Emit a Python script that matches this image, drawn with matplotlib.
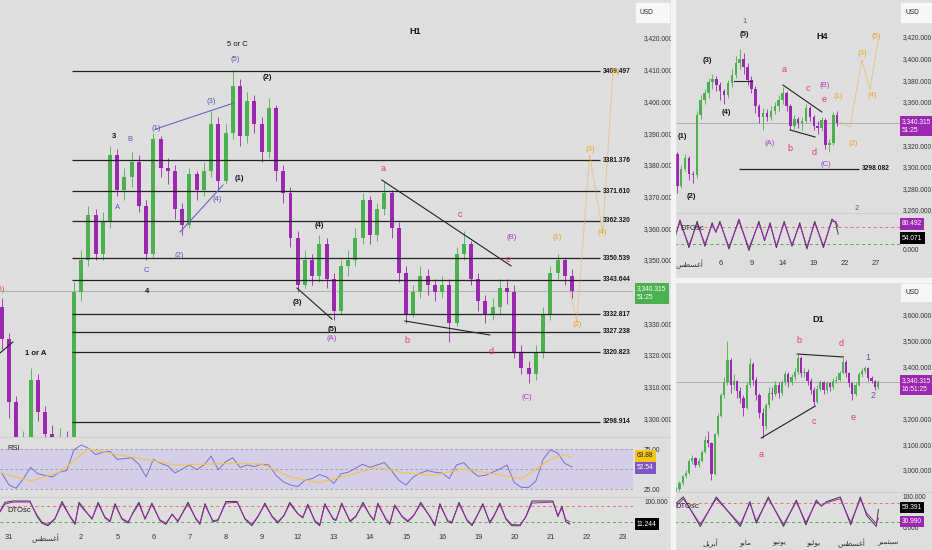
import numpy as np
import matplotlib
matplotlib.use('Agg')
import matplotlib.pyplot as plt
from matplotlib import transforms
from matplotlib.patches import Rectangle
from matplotlib.lines import Line2D
from matplotlib.ticker import FuncFormatter

plt.rcParams['font.family'] = ['Liberation Sans', 'DejaVu Sans']

# --- H1 data (one candle every 0.2 day, first candle at day -0.2) ---
h1_open0 = 3335
h1_close = [3325, 3305, 3288, 3292, 3312, 3302, 3295, 3293, 3294, 3292,
            3340, 3350, 3364, 3352, 3362, 3383, 3372, 3376, 3381, 3367,
            3352, 3388, 3379, 3378, 3366, 3361, 3377, 3372, 3378, 3393,
            3375, 3390, 3405, 3389, 3400, 3393, 3384, 3398, 3378, 3371,
            3357, 3342, 3350, 3345, 3355, 3344, 3334, 3348, 3350, 3357,
            3369, 3358, 3366, 3371, 3360, 3346, 3333, 3340, 3345, 3342,
            3340, 3342, 3330, 3352, 3355, 3344, 3337, 3333, 3335, 3341,
            3340, 3321, 3316, 3314, 3321, 3333, 3346, 3350, 3345, 3340.3]
h1_high = [3338, 3327, 3307, 3296, 3316, 3314, 3304, 3298, 3297, 3296,
           3343, 3353, 3367, 3366, 3365, 3386, 3385, 3379, 3384, 3383,
           3369, 3390, 3389, 3382, 3380, 3368, 3379, 3378, 3381, 3397,
           3395, 3393, 3410, 3407, 3403, 3402, 3395, 3401, 3399, 3380,
           3373, 3359, 3353, 3352, 3358, 3357, 3346, 3350, 3353, 3360,
           3371, 3370, 3368, 3375, 3372, 3362, 3348, 3342, 3348, 3347,
           3344, 3345, 3344, 3354, 3359, 3356, 3346, 3339, 3338, 3344,
           3344, 3342, 3323, 3318, 3323, 3335, 3348, 3352, 3351, 3347]
h1_low = [3322, 3300, 3284, 3286, 3290, 3299, 3292, 3290, 3291, 3289,
          3291, 3337, 3348, 3350, 3350, 3360, 3370, 3369, 3373, 3365,
          3350, 3351, 3376, 3374, 3363, 3358, 3360, 3369, 3370, 3376,
          3372, 3374, 3388, 3386, 3387, 3390, 3381, 3382, 3375, 3368,
          3354, 3340, 3341, 3342, 3343, 3341, 3331, 3333, 3345, 3348,
          3355, 3355, 3356, 3364, 3357, 3343, 3330, 3332, 3338, 3339,
          3337, 3338, 3324, 3329, 3350, 3342, 3334, 3330, 3331, 3333,
          3336, 3319, 3314, 3311, 3312, 3319, 3331, 3344, 3342, 3338]
h1_rsi = [45, 30, 26, 38, 52, 44, 42, 40, 46, 48,
          74, 80, 76, 68, 71, 72, 62, 63, 64, 56,
          40, 62, 57, 54, 45, 50, 55, 49, 55, 66,
          49, 59, 64, 52, 55, 53, 56, 55, 42, 34,
          30, 28, 36, 38, 43, 40, 32, 44, 46, 51,
          56, 52, 55, 58, 48, 36, 30, 40, 45, 48,
          46, 45, 38, 55, 58, 48, 41, 42, 46, 50,
          55, 33, 27, 27, 35, 62, 74, 70, 57, 52.54]
h1_rsi_ma_idx = [0, 4, 8, 12, 16, 20, 24, 28, 32, 36, 40, 44, 48, 52, 56, 60,
                 64, 68, 72, 76, 78, 79]
h1_rsi_ma = [45, 35, 46, 75, 68, 62, 55, 56, 57, 56, 40, 33, 42, 52, 45, 42,
             50, 44, 38, 62, 68, 63.88]
h1_dto_day = [-0.25, -0.11, 0.11, 0.58, 0.78, 0.91, 1.08, 1.27, 1.47, 1.69,
              1.83, 1.94, 2.13, 2.30, 2.47, 2.66, 2.80, 2.94, 3.13, 3.30,
              3.43, 3.60, 3.77, 3.96, 4.18, 4.35, 4.52, 4.68, 4.96, 5.18,
              5.29, 5.43, 5.65, 5.79, 6.01, 6.32, 6.54, 6.73, 6.90, 7.09,
              7.29, 7.45, 7.62, 7.78, 8.01, 8.14, 8.28, 8.48, 8.61, 8.75,
              8.98, 9.06, 9.22, 9.45, 9.61, 9.81, 10.0, 10.11, 10.22, 10.44,
              10.55, 10.69, 10.89, 11.05, 11.22, 11.41, 11.66, 11.80, 11.94, 12.16,
              12.27, 12.47, 12.69, 12.83, 12.96, 13.13, 13.32, 13.43, 13.60, 13.77,
              13.93, 14.16, 14.32, 14.49, 15.07, 15.21, 15.32, 15.43, 15.54]
h1_dto = [60, 95, 100, 100, 40, 15, 5, 30, 98, 40,
          10, 95, 60, 30, 95, 35, 20, 90, 30, 15,
          55, 95, 30, 92, 25, 10, 50, 20, 95, 30,
          10, 90, 20, 25, 98, 98, 30, 5, 40, 92,
          40, 15, 45, 95, 50, 35, 88, 20, 5, 90,
          30, 25, 92, 20, 40, 95, 45, 25, 92, 30,
          10, 85, 40, 20, 45, 95, 40, 5, 90, 20,
          15, 95, 25, 5, 40, 90, 15, 40, 92, 30,
          5, 5, 40, 100, 100, 40, 80, 20, 11.244]
h1_sig = [58, 88, 96, 96, 45, 20, 10, 32, 90, 42,
          15, 88, 58, 33, 88, 38, 24, 84, 33, 20,
          52, 88, 33, 86, 28, 15, 48, 24, 88, 33,
          15, 84, 24, 28, 92, 95, 33, 10, 42, 86,
          42, 20, 45, 88, 50, 38, 82, 24, 10, 84,
          33, 28, 86, 24, 42, 88, 46, 28, 86, 33,
          15, 80, 42, 24, 46, 88, 42, 10, 84, 24,
          20, 88, 28, 10, 42, 84, 20, 42, 86, 33,
          10, 8, 38, 92, 96, 45, 72, 28, 20]
h1_levels = [3409.497, 3381.376, 3371.610, 3362.320, 3350.539, 3343.644,
             3332.817, 3327.238, 3320.823, 3298.914]
h1_days = ['31', 'أغسطس', '2', '5', '6', '7', '8', '9', '12', '13', '14', '15',
           '16', '19', '20', '21', '22', '23']
h1_proj_day = [15.54, 15.73, 16.09, 16.45, 16.73]
h1_proj_price = [3340.3, 3330.4, 3383.0, 3358.8, 3408.3]
h1_trend_blue = [[(4.07, 3391.3), (6.23, 3399.5)], [(4.74, 3358.8), (5.93, 3373.6)]]
h1_trend_black = [[(10.33, 3375.2), (13.91, 3348.1)], [(7.98, 3341.1), (8.95, 3331.3)],
                  [(10.97, 3330.7), (13.32, 3326.3)], [(-0.25, 3320.6), (0.11, 3324.1)]]

# --- H4 data (one candle every 0.125 label step) ---
h4_open0 = 3318
h4_close = [3312, 3282, 3298, 3308, 3293, 3292, 3348, 3362, 3368, 3378,
            3381, 3376, 3370, 3366, 3377, 3385, 3396, 3400, 3392, 3380,
            3372, 3356, 3346, 3350, 3346, 3352, 3356, 3362, 3368, 3356,
            3338, 3344, 3340, 3342, 3354, 3346, 3338, 3336, 3343, 3320,
            3322, 3348, 3340.3]
h4_high = [3320, 3314, 3302, 3312, 3310, 3296, 3352, 3366, 3372, 3382,
           3386, 3384, 3378, 3372, 3380, 3390, 3402, 3409, 3405, 3396,
           3384, 3375, 3358, 3354, 3353, 3356, 3360, 3366, 3374, 3370,
           3358, 3348, 3346, 3346, 3358, 3356, 3348, 3342, 3346, 3345,
           3326, 3351, 3352]
h4_low = [3305, 3276, 3280, 3296, 3288, 3285, 3290, 3344, 3358, 3364,
          3372, 3370, 3362, 3358, 3364, 3374, 3382, 3390, 3386, 3376,
          3368, 3350, 3340, 3334, 3342, 3343, 3349, 3352, 3358, 3352,
          3334, 3335, 3336, 3334, 3340, 3342, 3334, 3330, 3333, 3316,
          3314, 3320, 3338]
h4_dto_u = [-0.45, -0.29, 0.0, 0.26, 0.51, 0.74, 0.86, 0.99, 1.28, 1.60,
            1.92, 2.24, 2.42, 2.60, 2.80, 3.05, 3.30, 3.55, 3.78, 4.03,
            4.31, 4.58, 4.70, 4.78]
h4_dto = [40, 105, 5, 100, 10, 95, 60, 100, 0, 108,
          -5, 100, 30, 95, 5, 100, 10, 95, 0, 100,
          5, 108, 95, 54.071]
h4_sig = [48, 96, 14, 92, 18, 88, 62, 94, 8, 100,
          4, 94, 34, 88, 12, 94, 16, 88, 8, 94,
          12, 100, 100, 80.492]
h4_days = ['أغسطس', '6', '9', '14', '19', '22', '27']
h4_level = 3298.082
h4_proj_u = [4.78, 5.16, 5.54, 5.80, 6.06]
h4_proj_price = [3342.3, 3336.7, 3398.7, 3371.0, 3417.2]
h4_trend = [[(3.01, 3375.6), (4.26, 3350.6)], [(3.24, 3334.0), (4.04, 3327.5)],
            [(1.44, 3379.3), (2.02, 3379.3)]]

# --- D1 data (one candle every 2 trading days) ---
d1_open0 = 2915
d1_close = [2925, 2950, 2975, 2990, 3035, 3048, 3020, 3035, 3070, 3115,
            3105, 2985, 3140, 3210, 3290, 3340, 3425, 3330, 3345, 3305,
            3280, 3240, 3330, 3410, 3350, 3290, 3220, 3170, 3250, 3300,
            3295, 3330, 3300, 3340, 3370, 3340, 3360, 3380, 3435, 3375,
            3380, 3345, 3310, 3265, 3315, 3340, 3310, 3335, 3320, 3345,
            3350, 3375, 3420, 3375, 3335, 3295, 3330, 3370, 3385, 3395,
            3355, 3345, 3320, 3340.3]
d1_high = [2935, 2958, 2982, 3000, 3042, 3058, 3052, 3045, 3078, 3130,
           3150, 3110, 3145, 3220, 3300, 3360, 3500, 3435, 3370, 3350,
           3320, 3290, 3340, 3435, 3420, 3360, 3300, 3240, 3260, 3320,
           3320, 3345, 3340, 3350, 3385, 3380, 3370, 3395, 3450, 3440,
           3395, 3390, 3355, 3320, 3330, 3350, 3345, 3345, 3340, 3355,
           3365, 3385, 3435, 3425, 3380, 3340, 3340, 3380, 3395, 3402,
           3400, 3365, 3350, 3348]
d1_low = [2905, 2918, 2942, 2968, 2985, 3025, 3010, 3012, 3030, 3065,
          3090, 2960, 2980, 3130, 3205, 3280, 3330, 3300, 3310, 3280,
          3260, 3210, 3235, 3320, 3330, 3270, 3200, 3123, 3160, 3240,
          3270, 3285, 3280, 3290, 3330, 3320, 3330, 3350, 3370, 3360,
          3360, 3330, 3295, 3250, 3260, 3305, 3295, 3300, 3305, 3315,
          3335, 3345, 3370, 3360, 3320, 3270, 3285, 3325, 3360, 3375,
          3345, 3335, 3310, 3315]
d1_dto_b = [0, 4.4, 15, 25, 40, 46, 50, 57.5, 67, 75,
            81, 87.5, 90.6, 94, 102.5, 109, 115, 119, 125, 126.3]
d1_dto = [80, 100, 5, 100, 5, 85, 15, 100, 5, 90,
          10, 90, 70, 85, 100, 10, 100, 40, 5, 59.391]
d1_sig = [70, 94, 12, 94, 12, 80, 22, 94, 12, 84,
          18, 84, 72, 82, 94, 18, 92, 48, 14, 30.990]
d1_month_pos = [21.25, 43.1, 64.4, 85.6, 109.4, 132.5]
d1_months = ['أبريل', 'مايو', 'يونيو', 'يوليو', 'أغسطس', 'سبتمبر']
d1_trend = [[(53.1, 3123.9), (86.9, 3247.8)], [(75.6, 3449.0), (104.4, 3437.5)]]

last_price = 3340.315

# --- helpers ---
W, H = 932, 550
BG = '#dedede'
UP, DN = '#4caf50', '#9c27b0'
BLUE, RED, PURP, ORNG, BLK = '#5a56b4', '#e0405a', '#a040c0', '#f0a020', '#151515'
FS = 4.8   # axis / box text size

# very small arabic shaper (matplotlib does not join letters)
FORMS = {'ا': ('\uFE8D', '\uFE8E', None, None), 'أ': ('\uFE83', '\uFE84', None, None),
         'ب': ('\uFE8F', '\uFE90', '\uFE91', '\uFE92'), 'ت': ('\uFE95', '\uFE96', '\uFE97', '\uFE98'),
         'ر': ('\uFEAD', '\uFEAE', None, None), 'س': ('\uFEB1', '\uFEB2', '\uFEB3', '\uFEB4'),
         'ط': ('\uFEC1', '\uFEC2', '\uFEC3', '\uFEC4'), 'غ': ('\uFECD', '\uFECE', '\uFECF', '\uFED0'),
         'ل': ('\uFEDD', '\uFEDE', '\uFEDF', '\uFEE0'), 'م': ('\uFEE1', '\uFEE2', '\uFEE3', '\uFEE4'),
         'ن': ('\uFEE5', '\uFEE6', '\uFEE7', '\uFEE8'), 'و': ('\uFEED', '\uFEEE', None, None),
         'ي': ('\uFEF1', '\uFEF2', '\uFEF3', '\uFEF4')}


def shape(word):
    if not any(ch in FORMS for ch in word):
        return word
    out = []
    for i, ch in enumerate(word):
        f = FORMS[ch]
        prev_j = i > 0 and FORMS[word[i - 1]][2] is not None
        nxt = i < len(word) - 1
        if prev_j and nxt and f[3]:
            out.append(f[3])
        elif prev_j:
            out.append(f[1])
        elif nxt and f[2]:
            out.append(f[2])
        else:
            out.append(f[0])
    return ''.join(reversed(out))


fig = plt.figure(figsize=(W / 100, H / 100), dpi=100, facecolor=BG)


def add_ax(x0, y0, x1, y1, pad):
    ax = fig.add_axes([x0 / W, 1 - y1 / H, (x1 - x0) / W, (y1 - y0) / H])
    ax.set_facecolor(BG)
    for s in ax.spines.values():
        s.set_visible(False)
    ax.yaxis.tick_right()
    ax.tick_params(length=0, labelsize=FS, colors='#333', pad=pad)
    ax.set_xticks([])
    return ax


def candles(ax, x, o0, h, l, c, w, minh):
    c = np.asarray(c, float)
    o = np.r_[o0, c[:-1]]
    col = np.where(c >= o, UP, DN)
    ax.vlines(x, l, h, colors=col, lw=0.6, zorder=2)
    ax.bar(x, np.maximum(np.abs(c - o), minh), bottom=np.minimum(o, c), width=w,
           color=col, linewidth=0, zorder=3)


def tag(ax, x_px, val, text, fc, tc, dy=0, va='center'):
    tr = transforms.blended_transform_factory(fig.transFigure, ax.transData)
    tr = transforms.offset_copy(tr, fig=fig, x=0, y=dy, units='dots')
    ax.text(x_px / W, val, text, transform=tr, ha='left', va=va, color=tc, fontsize=FS,
            linespacing=1.35, bbox=dict(boxstyle='square,pad=0.35', fc=fc, ec='none'),
            clip_on=False, zorder=10)


def lab(ax, x, y, s, col, size=5.5, bold=False):
    ax.text(x, y, s, color=col, fontsize=size, ha='center', va='center',
            fontweight='bold' if bold else 'normal', clip_on=True, zorder=6)


price_fmt = FuncFormatter(lambda v, p: f'{v:,.3f}')
SMALL = ('a', 'b', 'c', 'd', 'e')

# ================= H1 =================
ax1 = add_ax(0, 0, 633, 437, 8)
x1 = -0.2 + 0.2 * np.arange(len(h1_close))
ax1.axhline(last_price, color='#a8a8a8', lw=0.6, zorder=1)
candles(ax1, x1, h1_open0, h1_high, h1_low, h1_close, 0.11, 0.4)
ax1.set_xlim(-0.249, 17.29)
ax1.set_ylim(3294.1, 3432.0)
ax1.set_yticks([v for v in range(3300, 3421, 10) if v != 3340])
ax1.yaxis.set_major_formatter(price_fmt)
ax1.hlines(h1_levels, 1.75, 16.37, color='#222', lw=0.9, zorder=4)
for lv in h1_levels:
    ax1.text(16.45, lv, f'{lv:.3f}', fontsize=FS, fontweight='bold', va='center',
             ha='left', color=BLK, zorder=6)
for seg in h1_trend_blue:
    ax1.plot(*zip(*seg), color='#6a66c0', lw=0.8, zorder=5)
for seg in h1_trend_black:
    ax1.plot(*zip(*seg), color='#222', lw=0.8, zorder=5)
ax1.plot(h1_proj_day, h1_proj_price, color=ORNG, lw=0.7, ls=(0, (1, 1)), alpha=0.8, zorder=5)

lab(ax1, 11.25, 3422.2, 'H1', BLK, 6.5, True)
for x, y, s, c, b in [(6.34, 3418.1, '5 or C', BLK, False), (6.26, 3413.1, '(5)', BLUE, False),
                      (7.17, 3407.7, '(2)', BLK, True), (5.6, 3400.1, '(3)', BLUE, False),
                      (4.07, 3391.3, '(1)', BLUE, False), (2.91, 3388.8, '3', BLK, True),
                      (3.35, 3388.1, 'B', BLUE, False), (3.02, 3366.4, 'A', BLUE, False),
                      (6.37, 3375.8, '(1)', BLK, True), (5.76, 3368.9, '(4)', BLUE, False),
                      (4.71, 3351.5, '(2)', BLUE, False), (3.8, 3346.5, 'C', BLUE, False),
                      (3.82, 3339.9, '4', BLK, True), (0.75, 3320.6, '1 or A', BLK, True),
                      (-0.25, 3340.5, '(5)', RED, False), (8.61, 3360.7, '(4)', BLK, True),
                      (7.98, 3336.7, '(3)', BLK, True), (8.95, 3327.9, '(5)', BLK, True),
                      (8.95, 3325.3, '(A)', PURP, False), (10.36, 3378.7, 'a', RED, False),
                      (11.02, 3324.7, 'b', RED, False), (12.49, 3364.2, 'c', RED, False),
                      (13.35, 3321.2, 'd', RED, False), (13.82, 3350.0, 'e', RED, False),
                      (13.93, 3356.9, '(B)', PURP, False), (14.35, 3306.7, '(C)', PURP, False),
                      (15.18, 3357.2, '(1)', ORNG, False), (15.73, 3329.5, '(2)', ORNG, False),
                      (16.09, 3384.7, '(3)', ORNG, False), (16.45, 3358.5, '(4)', ORNG, False),
                      (16.79, 3409.3, '(5)', ORNG, False)]:
    lab(ax1, x, y, s, c, 6.5 if s in SMALL else 5.5, b)
tag(ax1, 637, last_price, '3,340.315\n51:25', UP, 'white', dy=5, va='top')

# RSI pane
ax1r = add_ax(0, 437, 633, 497, 8)
ax1r.set_xlim(-0.249, 17.29)
ax1r.set_ylim(15, 90)
ax1r.axhspan(25, 75, color='#d4cee8', lw=0)
ax1r.hlines([75, 50, 25], -0.249, 17.29, colors='#9a9a9a', lw=0.6, ls=(0, (3, 3)))
ax1r.plot(x1, h1_rsi, color='#7c6fd0', lw=0.7)
ax1r.plot(x1[h1_rsi_ma_idx], h1_rsi_ma, color='#f0c845', lw=0.8)
ax1r.set_yticks([75, 25])
ax1r.yaxis.set_major_formatter(FuncFormatter(lambda v, p: f'{v:.2f}'))
ax1r.text(0.012, 0.8, 'RSI', transform=ax1r.transAxes, fontsize=5.5, color='#222', va='center')
tag(ax1r, 637, 63.88, '63.88', '#f5c518', '#222', dy=2)
tag(ax1r, 637, 52.54, '52.54', '#7e57c2', 'white', dy=-1)

# DTOsc pane
ax1d = add_ax(0, 497, 633, 530, 8)
ax1d.set_xlim(-0.249, 17.29)
ax1d.set_ylim(-11.5, 115.4)
ax1d.axhline(80, color='#e57373', lw=0.7, ls=(0, (3, 3)))
ax1d.axhline(20, color='#4caf50', lw=0.7, ls=(0, (3, 3)))
ax1d.plot(h1_dto_day, h1_dto, color='#3a3a3a', lw=0.7)
ax1d.plot(h1_dto_day, h1_sig, color=DN, lw=0.7)
ax1d.set_yticks([100])
ax1d.yaxis.set_major_formatter(FuncFormatter(lambda v, p: f'{v:.3f}'))
ax1d.text(0.012, 0.58, 'DTOsc', transform=ax1d.transAxes, fontsize=5.5, color='#222', va='center')
tag(ax1d, 637, 11.244, '11.244', 'black', 'white')
ax1d.set_xticks(range(len(h1_days)))
ax1d.set_xticklabels([shape(s) for s in h1_days])
ax1d.tick_params(axis='x', pad=3, labelsize=5.3)

# ================= H4 =================
ax4 = add_ax(675, 0, 900, 213, 2)
x4 = -0.5 + 0.125 * np.arange(len(h4_close))
ax4.axhline(last_price, color='#a8a8a8', lw=0.6, zorder=1)
candles(ax4, x4, h4_open0, h4_high, h4_low, h4_close, 0.08, 0.8)
ax4.set_xlim(-0.449, 6.763)
ax4.set_ylim(3257.2, 3454.2)
ax4.set_yticks([v for v in range(3260, 3421, 20) if v != 3340])
ax4.yaxis.set_major_formatter(price_fmt)
ax4.hlines(h4_level, 1.6, 5.45, color='#222', lw=0.9, zorder=4)
for seg in h4_trend:
    ax4.plot(*zip(*seg), color='#222', lw=0.8, zorder=5)
ax4.plot(h4_proj_u, h4_proj_price, color=ORNG, lw=0.7, ls=(0, (1, 1)), alpha=0.8, zorder=5)
lab(ax4, 4.26, 3420, 'H4', BLK, 6.5, True)
for x, y, s, c, b in [(1.79, 3433.9, '1', BLUE, False), (1.76, 3421.9, '(5)', BLK, True),
                      (0.58, 3398.7, '(3)', BLK, True), (1.19, 3350.6, '(4)', BLK, True),
                      (-0.22, 3327.5, '(1)', BLK, True), (0.06, 3272.0, '(2)', BLK, True),
                      (3.04, 3389.5, 'a', RED, False), (3.81, 3372.8, 'c', RED, False),
                      (4.36, 3374.7, '(B)', PURP, False), (4.33, 3362.6, 'e', RED, False),
                      (4.78, 3364.5, '(1)', ORNG, False), (5.54, 3404.3, '(3)', ORNG, False),
                      (5.99, 3420.0, '(5)', ORNG, False), (5.87, 3366.3, '(4)', ORNG, False),
                      (5.26, 3321.9, '(2)', ORNG, False), (2.6, 3321.9, '(A)', PURP, False),
                      (3.24, 3316.4, 'b', RED, False), (4.01, 3313.6, 'd', RED, False),
                      (4.39, 3302.5, '(C)', PURP, False), (5.38, 3261.8, '2', BLUE, False)]:
    lab(ax4, x, y, s, c, 6.5 if s in SMALL else 5.5, b)
ax4.text(5.54, h4_level, f'{h4_level:.3f}', fontsize=FS, fontweight='bold', va='center',
         ha='left', color=BLK, zorder=6)
tag(ax4, 902, last_price, '3,340.315\n51:25', DN, 'white', dy=5, va='top')

ax4d = add_ax(675, 213, 900, 256, 2)
ax4d.set_xlim(-0.449, 6.763)
ax4d.set_ylim(-25, 130)
ax4d.axhline(80, color='#e57373', lw=0.7, ls=(0, (3, 3)))
ax4d.axhline(20, color='#4caf50', lw=0.7, ls=(0, (3, 3)))
ax4d.plot(h4_dto_u, h4_dto, color='#3a3a3a', lw=0.7)
ax4d.plot(h4_dto_u, h4_sig, color=DN, lw=0.7)
ax4d.set_yticks([0])
ax4d.yaxis.set_major_formatter(FuncFormatter(lambda v, p: f'{v:.3f}'))
ax4d.text(0.022, 0.63, 'DTOsc', transform=ax4d.transAxes, fontsize=5.5, color='#222', va='center')
tag(ax4d, 902, 80.492, '80.492', DN, 'white', dy=3)
tag(ax4d, 902, 54.071, '54.071', 'black', 'white', dy=-4)
ax4d.set_xticks(range(len(h4_days)))
ax4d.set_xticklabels([shape(s) for s in h4_days])
ax4d.tick_params(axis='x', pad=3, labelsize=5.3)

# ================= D1 =================
axd = add_ax(675, 282, 900, 492, 2)
xd = 2 * np.arange(len(d1_close))
axd.axhline(last_price, color='#a8a8a8', lw=0.6, zorder=1)
candles(axd, xd, d1_open0, d1_high, d1_low, d1_close, 1.3, 3)
axd.set_xlim(-0.8, 139.8)
axd.set_ylim(2914.8, 3727.8)
axd.set_yticks([3000, 3100, 3200, 3400, 3500, 3600])
axd.yaxis.set_major_formatter(price_fmt)
for seg in d1_trend:
    axd.plot(*zip(*seg), color='#222', lw=0.8, zorder=5)
lab(axd, 88.75, 3580.7, 'D1', BLK, 6.5, True)
for x, y, s, c in [(76.9, 3499.4, 'b', RED), (103.1, 3487.8, 'd', RED), (119.4, 3433.6, '1', BLUE),
                   (123.1, 3286.5, '2', BLUE), (53.1, 3061.9, 'a', RED), (86.25, 3185.8, 'c', RED),
                   (110.6, 3201.3, 'e', RED)]:
    lab(axd, x, y, s, c, 6.5)
tag(axd, 902, last_price, '3,340.315\n16:51:25', DN, 'white', dy=5, va='top')

axdd = add_ax(675, 492, 900, 532, 2)
axdd.set_xlim(-0.8, 139.8)
axdd.set_ylim(-13, 116)
axdd.axhline(80, color='#e57373', lw=0.7, ls=(0, (3, 3)))
axdd.axhline(20, color='#4caf50', lw=0.7, ls=(0, (3, 3)))
axdd.plot(d1_dto_b, d1_dto, color='#3a3a3a', lw=0.7)
axdd.plot(d1_dto_b, d1_sig, color=DN, lw=0.7)
axdd.set_yticks([100, 0])
axdd.yaxis.set_major_formatter(FuncFormatter(lambda v, p: f'{v:.3f}'))
axdd.text(0.0, 0.65, 'DTOsc', transform=axdd.transAxes, fontsize=5.5, color='#222', va='center')
tag(axdd, 902, 59.391, '59.391', 'black', 'white', dy=2)
tag(axdd, 902, 30.990, '30.990', DN, 'white', dy=-3)
axdd.set_xticks(d1_month_pos)
axdd.set_xticklabels([shape(s) for s in d1_months])
axdd.tick_params(axis='x', pad=5, labelsize=5.3)

# --- frame: separators, pane lines, USD boxes ---
fig.add_artist(Rectangle((671 / W, 0), 4 / W, 1, transform=fig.transFigure, color='#f4f4f4', zorder=20))
fig.add_artist(Rectangle((675 / W, 1 - 282 / H), (W - 675) / W, 4 / H, transform=fig.transFigure,
                         color='#f4f4f4', zorder=20))
for y in (437, 497):
    fig.add_artist(Line2D([0, 671 / W], [1 - y / H] * 2, color='#cbcbcb', lw=0.6))
fig.add_artist(Line2D([675 / W, 1], [1 - 213 / H] * 2, color='#cbcbcb', lw=0.6))
fig.add_artist(Line2D([675 / W, 1], [1 - 492 / H] * 2, color='#cbcbcb', lw=0.6))
for x0, y0, x1b, y1b in [(636, 3, 669, 22), (901, 3, 931, 22), (901, 284, 931, 301)]:
    fig.add_artist(Rectangle((x0 / W, 1 - y1b / H), (x1b - x0) / W, (y1b - y0) / H,
                             transform=fig.transFigure, color='#f7f7f7', zorder=20))
    fig.text((x0 + 4) / W, 1 - (y0 + y1b) / 2 / H, 'USD', fontsize=FS, va='center',
             color='#222', zorder=21)

fig.savefig('out.png', dpi=100, facecolor=BG)
